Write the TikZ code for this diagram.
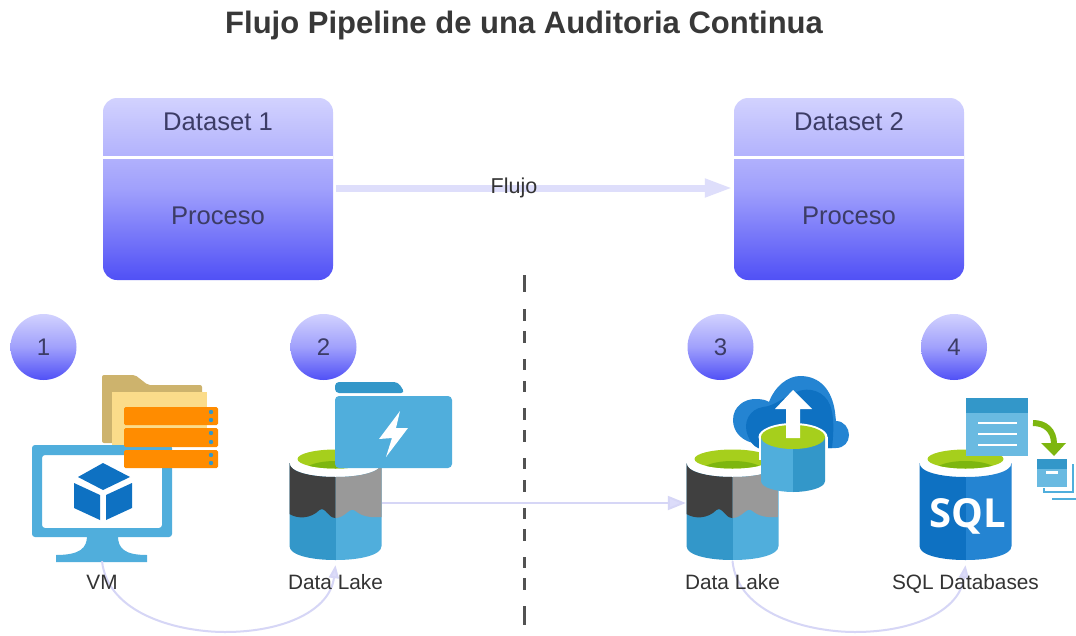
\documentclass[tikz,border=0pt]{standalone}
\usepackage{fontspec}
\setmainfont{Liberation Sans}
\newfontfamily\sqlfont{Open Sans}
\usetikzlibrary{arrows.meta}
\definecolor{lav}{HTML}{DEDEFB}
\definecolor{lavthin}{HTML}{D6D6F6}
\definecolor{lavhead}{HTML}{DCDCFA}
\definecolor{boxtext}{HTML}{3C3C66}
\definecolor{labtext}{HTML}{333333}
\definecolor{skyb}{HTML}{50AEDC}
\definecolor{midb}{HTML}{3397C9}
\definecolor{deepb}{HTML}{0E71C2}
\definecolor{deepc}{HTML}{2484D2}
\definecolor{lgreen}{HTML}{A6CF1C}
\definecolor{dgreen}{HTML}{7DB60F}
\definecolor{DSa}{HTML}{D2D2FE}
\definecolor{DSm}{HTML}{A0A0FC}
\definecolor{DSb}{HTML}{5050F6}
\tikzset{
  gbox/.style={rounded corners=14pt,minimum width=230pt,minimum height=182pt,inner sep=0pt,
     top color=DSa,bottom color=DSb,middle color=DSm},
  badge/.style={circle,minimum size=66pt,inner sep=0pt,top color=DSa,bottom color=DSb,middle color=DSm,
     text=boxtext,font=\fontsize{24}{28}\selectfont},
  dstext/.style={text=boxtext,font=\fontsize{25.6}{30}\selectfont,inner sep=0pt},
  lab/.style={text=labtext,font=\fontsize{20.8}{25}\selectfont,inner sep=0pt,anchor=base},
  iconbox/.style={minimum width=#1,minimum height=112pt,inner sep=0pt},
  flow/.style={lav,line width=7pt,shorten >=1pt,-{Triangle[length=28pt,width=17pt,fill=lavhead]}},
  thin flow/.style={lavthin,line width=2pt,-{Triangle[length=18pt,width=14pt,fill=lavhead]}},
  curve flow/.style={lavthin,line width=2pt,-{Triangle[length=13pt,width=10pt,fill=lavhead]}},
}
% Cylinder: #1 centre x, #2 left colour, #3 right colour
\newcommand{\cylbody}[3]{%
  \begin{scope}[shift={(#1,0)}]
    \begin{scope}
      \clip (-46,463) -- (-46,546) .. controls (-46,555) and (-25,560) .. (0,560)
         .. controls (25,560) and (46,555) .. (46,546) -- (46,463)
         .. controls (46,472) and (25,477) .. (0,477) .. controls (-25,477) and (-46,472) .. (-46,463) -- cycle;
      \fill[#2] (-47,455) rectangle (0,565);
      \fill[#3] (0,455) rectangle (47,565);
    \end{scope}
    \begin{scope}
      \clip (0,459) ellipse [x radius=38,y radius=9.5];
      \fill[lgreen] (-40,448) rectangle (40,470);
      \fill[dgreen] (0,470) ellipse [x radius=30,y radius=9];
    \end{scope}
  \end{scope}}
% Data lake cylinder
\newcommand{\lakecyl}[1]{%
  \cylbody{#1}{midb}{skyb}
  \begin{scope}[shift={(#1,0)}]
    \clip (-46,463) -- (-46,560) -- (46,560) -- (46,463)
       .. controls (46,472) and (25,477) .. (0,477) .. controls (-25,477) and (-46,472) .. (-46,463) -- cycle;
    \fill[black!75] (-46,460) -- (-46,514) .. controls (-38,519) and (-25,519) .. (-16,510)
       .. controls (-10,506) and (-8,518) .. (0,518) -- (0,460) -- cycle;
    \fill[black!40] (46,460) -- (46,517) .. controls (34,518) and (26,516) .. (20,511)
       .. controls (14,506) and (10,518) .. (0,518) -- (0,460) -- cycle;
  \end{scope}}
\begin{document}
\begin{tikzpicture}[x=1pt,y=-1pt]
\useasboundingbox (0,0) rectangle (1076,635);
\fill[white] (0,0) rectangle (1076,635);

% title
\node[inner sep=0pt,text=black!78,font=\bfseries\fontsize{31}{35}\selectfont] (title) at (524,25) {Flujo Pipeline de una Auditoria Continua};

% dataset boxes
\node[gbox] (box1) at (218,189) {};
\node[gbox] (box2) at (849,189) {};
\draw[white,line width=3pt] (box1.west |- 0,157) -- (box1.east |- 0,157);
\draw[white,line width=3pt] (box2.west |- 0,157) -- (box2.east |- 0,157);
\node[dstext] (d1) at (218,122) {Dataset 1};
\node[dstext] (d2) at (849,122) {Dataset 2};
\node[dstext] (p1) at (218,216) {Proceso};
\node[dstext] (p2) at (849,216) {Proceso};

% badges
\node[badge] (n1) at (43.5,347) {1};
\node[badge] (n2) at (323.5,347) {2};
\node[badge] (n3) at (720.5,347) {3};
\node[badge] (n4) at (954,347) {4};

% dashed divider
\coordinate (divtop) at (524,275);
\coordinate (divbot) at (524,625);
\draw[black!68,line width=3pt,dash pattern=on 17pt off 17pt on 12pt off 10pt on 12pt off 16pt on 11pt off 11pt on 11pt off 16pt on 12pt off 10pt on 12pt off 16pt on 11pt off 11pt on 12pt off 16pt on 11pt off 10pt on 12pt off 16pt on 11pt off 10pt on 12pt off 16pt on 19pt off 40pt] (divtop) -- (divbot);

% folder + servers + monitor (VM)
\fill[rounded corners=2pt,fill={rgb,255:red,205;green,179;blue,109}] (102,375) -- (135,375) -- (148,385) -- (202,385) -- (202,443) -- (102,443) -- cycle;
\fill[fill={rgb,255:red,251;green,220;blue,138}] (112,392) -- (207,392) -- (207,446) -- (112,446) -- cycle;
\fill[skyb,rounded corners=3pt,even odd rule] (32,445) rectangle (172,537) (42,455) rectangle (162,528);
\fill[skyb] (87,536) -- (118,536) .. controls (118,548) and (124,555) .. (147,555) -- (147,562) -- (56,562) -- (56,555) .. controls (80,555) and (87,548) .. (87,536) -- cycle;
\fill[deepb] (103,463) -- (130,477) -- (103,490) -- (78,477) -- cycle;
\fill[deepb] (74,483) -- (100,495) -- (100,520) -- (74,508) -- cycle;
\fill[deepb] (106,495) -- (132,483) -- (132,508) -- (106,520) -- cycle;
\foreach \ya/\yb in {407/425,428/447,450/468}{
  \fill[fill={rgb,255:red,255;green,140;blue,0},rounded corners=1.5pt] (124,\ya) rectangle (218,\yb);
  \fill[midb] (211,\ya+5) circle (2.2);
  \fill[midb] (211,\yb-5) circle (2.2);
}
\node[iconbox=140pt] (vm) at (102,505) {};

% lake 1 + folder
\lakecyl{335.5}
\fill[midb,rounded corners=4pt] (335,393) -- (335,382) -- (398,382) -- (405,393) -- cycle;
\fill[skyb,rounded corners=4pt] (335,396) -- (452,396) -- (452,468) -- (335,468) -- cycle;
\fill[white] (400,411) -- (379,439) -- (392,438) -- (386,457) -- (408,428) -- (396,428) -- cycle;
\node[iconbox=93pt] (lake1) at (335.5,505) {};

% lake 2 + upload
\lakecyl{732.5}
% cloud: outer lighter shape
\fill[deepc] (758,444) .. controls (742,442) and (733,432) .. (733,420)
   .. controls (733,406) and (745,399) .. (755,399)
   .. controls (762,399) and (766,400) .. (769,402)
   .. controls (775,386) and (788,376) .. (800,376)
   .. controls (820,376) and (832,390) .. (835,412) -- (836,421)
   .. controls (844,421) and (849,428) .. (849,435)
   .. controls (849,442) and (844,448) .. (836,448) -- (758,448) -- cycle;
% cloud: inner darker shape
\fill[deepb] (748,436) .. controls (742,422) and (750,409) .. (763,407)
   .. controls (775,406) and (785,396) .. (796,392)
   .. controls (810,386) and (825,392) .. (830,405)
   .. controls (834,415) and (834,430) .. (832,448) -- (758,448)
   .. controls (753,446) and (750,441) .. (748,436) -- cycle;
\fill[white] (793,437) ellipse [x radius=34.5,y radius=14];
\fill[white] (758.5,437) rectangle (827.5,460);
\begin{scope}
  \clip (761,437) -- (761,481) .. controls (761,488) and (778,492) .. (793,492)
     .. controls (808,492) and (825,488) .. (825,481) -- (825,437) -- cycle;
  \fill[skyb] (760,430) rectangle (793,495);
  \fill[midb] (793,430) rectangle (826,495);
\end{scope}
\fill[lgreen] (793,437) ellipse [x radius=32,y radius=12];
\fill[white] (793,390) -- (812,409) -- (800,409) -- (800,438) -- (786,438) -- (786,409) -- (775,409) -- cycle;
\node[iconbox=93pt] (lake2) at (732.5,505) {};

% SQL
\cylbody{965.5}{deepb}{deepc}
\node[inner sep=0pt,text=white,font=\sqlfont\bfseries\fontsize{40}{42}\selectfont] (sqltxt) at (968,516) {SQL};
\fill[skyb!85!white] (966,398) rectangle (1028,456);
\fill[midb] (966,398) rectangle (1028,413);
\foreach \y in {423,434,445}{\fill[white] (978,\y-1.2) rectangle (1017,\y+1.2);}
\draw[dgreen,line width=6pt] (1033,423) .. controls (1045,423) and (1054,430) .. (1054,444);
\fill[dgreen] (1041,443) -- (1066,443) -- (1054,456) -- cycle;
\draw[skyb,line width=2pt] (1044,488) -- (1044,492) -- (1073,492) -- (1073,464);
\draw[skyb,line width=2pt] (1052,499) -- (1076,499);
\fill[skyb!85!white] (1037,459) rectangle (1067,487);
\fill[midb] (1037,459) rectangle (1067,469);
\fill[white] (1046,471) rectangle (1058,473.5);
\node[iconbox=93pt] (sql) at (965.5,505) {};

% connectors
\draw[flow] (box1.east |- 0,188) ++(3,0) -- (box2.west |- 0,188);
\draw[thin flow] (lake1.east |- 0,503) -- (lake2.west |- 0,503);
\draw[curve flow] (vm.south) .. controls (108,615) and (180,632) .. (225,632) .. controls (285,632) and (330,610) .. ([yshift=-4pt]lake1.south);
\draw[curve flow] (lake2.south) .. controls (738,615) and (810,632) .. (855,632) .. controls (915,632) and (960,610) .. ([yshift=-4pt]sql.south);

% labels on top of the connectors
\node[inner sep=0pt,text=labtext,font=\fontsize{21.5}{25}\selectfont] (flujo) at (514,187.5) {Flujo};
\node[lab] (lvm) at (102,589) {VM};
\node[lab] (llake1) at (335.5,589) {Data Lake};
\node[lab] (llake2) at (732.5,589) {Data Lake};
\node[lab] (lsql) at (965.5,589) {SQL Databases};
\end{tikzpicture}
\end{document}
